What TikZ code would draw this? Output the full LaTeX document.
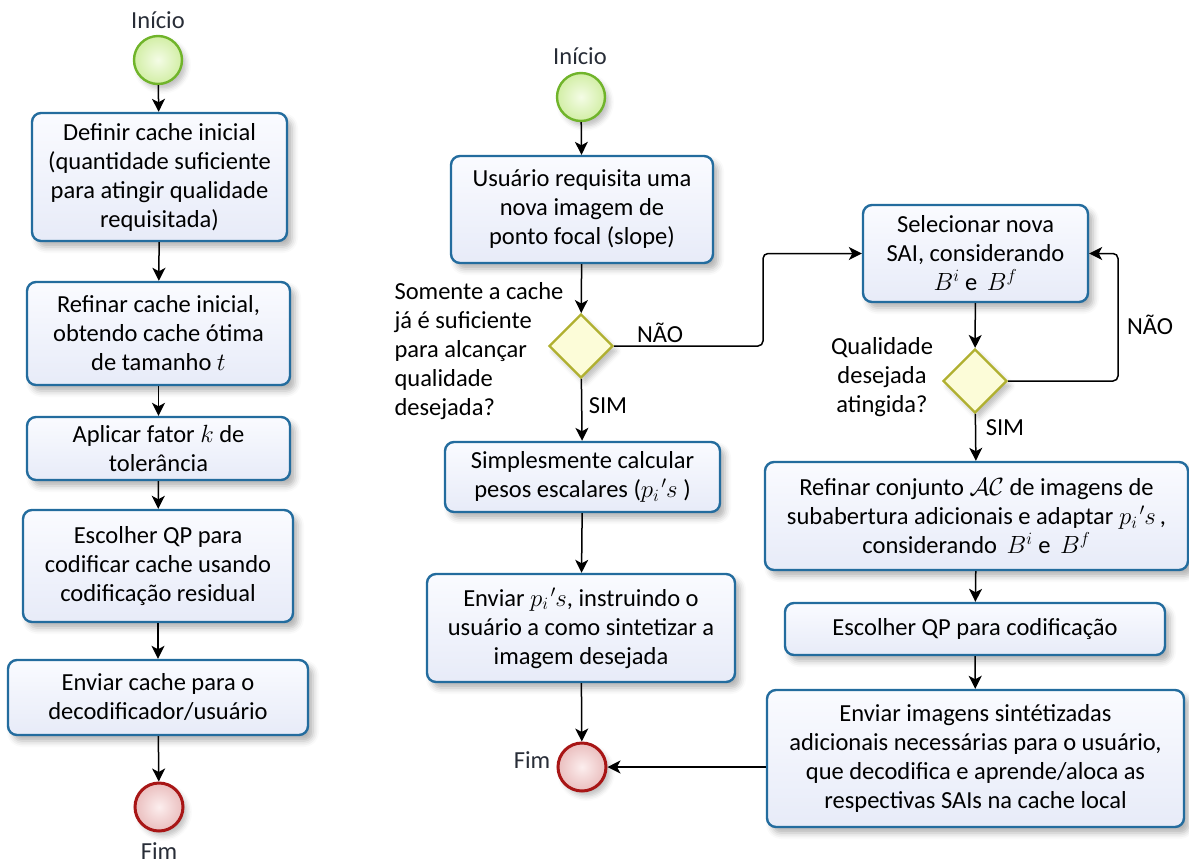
\documentclass[tikz,border=0pt]{standalone}
\usepackage{fontspec}
\setmainfont{Carlito}
\usetikzlibrary{shapes.geometric,arrows.meta,shadows.blur,calc}
\definecolor{boxborder}{RGB}{35,108,158}
\definecolor{boxfilltop}{RGB}{250,251,255}
\definecolor{boxfillbot}{RGB}{231,235,248}
\definecolor{startborder}{RGB}{112,180,42}
\definecolor{startin}{RGB}{244,252,230}
\definecolor{startout}{RGB}{210,238,165}
\definecolor{endborder}{RGB}{168,22,22}
\definecolor{endin}{RGB}{252,238,238}
\definecolor{endout}{RGB}{234,190,190}
\definecolor{decborder}{RGB}{176,176,48}
\definecolor{decfill}{RGB}{252,252,216}
\definecolor{labelcol}{RGB}{40,45,55}
\newcommand{\pis}{$p_i\kern2pt{}^{\prime}\kern-0.5pt s$}
\tikzset{
  txt/.style={font=\fontsize{24.5}{29}\selectfont, text=black},
  procbox/.style={txt, draw=boxborder, line width=2.4pt, rounded corners=9pt,
    top color=boxfilltop, bottom color=boxfillbot, align=center, inner sep=2pt,
    blur shadow={shadow xshift=5pt, shadow yshift=-6pt, shadow blur radius=6pt, shadow opacity=30}},
  startev/.style={circle, draw=startborder, line width=2.4pt, inner color=startin, outer color=startout,
    minimum size=48pt, inner sep=0pt,
    blur shadow={shadow xshift=4pt, shadow yshift=-5pt, shadow blur radius=5pt, shadow opacity=25}},
  endev/.style={circle, draw=endborder, line width=3pt, inner color=endin, outer color=endout,
    minimum size=48pt, inner sep=0pt,
    blur shadow={shadow xshift=4pt, shadow yshift=-5pt, shadow blur radius=5pt, shadow opacity=25}},
  decision/.style={diamond, draw=decborder, line width=2.4pt, fill=decfill, shape aspect=1,
    minimum width=64pt, minimum height=64pt, inner sep=0pt,
    blur shadow={shadow xshift=4pt, shadow yshift=-5pt, shadow blur radius=5pt, shadow opacity=25}},
  evlabel/.style={txt, text=labelcol},
  flow/.style={line width=1.5pt, draw=black, rounded corners=5pt,
    -{Stealth[length=13pt,width=13pt,inset=3.5pt]}},
}
\begin{document}
\begin{tikzpicture}[x=1pt,y=-1pt]
\useasboundingbox (0,0) rectangle (1189,865);

% ---------------- Left flow ----------------
\node[evlabel] (ls1) at (158,20) {Início};
\node[startev] (s1) at (158,60) {};
\node[procbox, minimum width=255pt, minimum height=128pt] (b1) at (159.5,177)
  {Definir cache inicial\\(quantidade suficiente\\para atingir qualidade\\requisitada)};
\node[procbox, minimum width=263pt, minimum height=103pt] (b2) at (158.5,333.5)
  {Refinar cache inicial,\\obtendo cache ótima\\de tamanho $t$};
\node[procbox, minimum width=263pt, minimum height=63pt] (b3) at (158.5,448.5)
  {Aplicar fator $k$ de\\tolerância};
\node[procbox, minimum width=270pt, minimum height=112pt] (b4) at (158,566)
  {Escolher QP para\\codificar cache usando\\codificação residual};
\node[procbox, minimum width=300pt, minimum height=75pt] (b5) at (158,697.5)
  {Enviar cache para o\\decodificador/usuário};
\node[endev] (e1) at (159,807) {};
\node[evlabel] (le1) at (159,851) {Fim};

\draw[flow] (s1) -- (b1);
\draw[flow] (b1) -- (b2);
\draw[flow] (b2) -- (b3);
\draw[flow] (b3) -- (b4);
\draw[flow] (b4) -- (b5);
\draw[flow] (b5) -- (e1);

% ---------------- Middle flow ----------------
\node[evlabel] (ls2) at (580,56) {Início};
\node[startev] (s2) at (581,97) {};
\node[procbox, minimum width=262pt, minimum height=107pt] (m1) at (582,209.5)
  {Usuário requisita uma\\nova imagem de\\ponto focal (slope)};
\node[decision] (d1) at (581,346) {};
\node[txt, anchor=west, align=left] (q1) at (391,351)
  {Somente a cache\\já é suficiente\\para alcançar\\qualidade\\desejada?};
\node[txt] (nao1) at (660,333) {NÃO};
\node[txt] (sim1) at (608,406) {SIM};
\node[procbox, minimum width=275pt, minimum height=70pt] (m2) at (582.5,477)
  {Simplesmente calcular\\pesos escalares (\pis\ )};
\node[procbox, minimum width=308pt, minimum height=108pt] (m3) at (581,628)
  {Enviar \pis, instruindo o\\usuário a como sintetizar a\\imagem desejada};
\node[endev] (e2) at (582,767) {};
\node[evlabel] (le2) at (532,760) {Fim};

\draw[flow] (s2) -- (m1);
\draw[flow] (m1) -- (d1);
\draw[flow] (d1) -- (m2);
\draw[flow] (m2) -- (m3);
\draw[flow] (m3) -- (e2);

% ---------------- Right flow ----------------
\node[procbox, minimum width=225pt, minimum height=97pt] (r1) at (975.5,253.5)
  {Selecionar nova\\SAI, considerando\\$B^i$ e\, $B^f$};
\node[decision] (d2) at (975,381) {};
\node[txt, align=center] (q2) at (882,377) {Qualidade\\desejada\\atingida?};
\node[txt] (nao2) at (1150,325) {NÃO};
\node[txt] (sim2) at (1005,428) {SIM};
\node[procbox, minimum width=423pt, minimum height=108pt] (r2) at (976.5,516)
  {Refinar conjunto $\mathcal{AC}$ de imagens de\\subabertura adicionais e adaptar \pis\,,\\considerando\, $B^i$ e\, $B^f$};
\node[procbox, minimum width=380pt, minimum height=52pt] (r3) at (975,629)
  {Escolher QP para codificação};
\node[procbox, minimum width=417pt, minimum height=137pt] (r4) at (975.5,758.5)
  {Enviar imagens sintétizadas\\adicionais necessárias para o usuário,\\que decodifica e aprende/aloca as\\respectivas SAIs na cache local};

\coordinate (k1) at (763,346);
\coordinate (k2) at (1118,381);
\draw[flow] (d1.east) -- (k1) |- (r1.west);
\draw[flow] (r1) -- (d2);
\draw[flow] (d2.east) -- (k2) |- (r1.east);
\draw[flow] (d2) -- (r2);
\draw[flow] (r2) -- (r3);
\draw[flow] (r3) -- (r4);
\draw[flow] (e2.east -| r4.west) -- (e2.east);
\end{tikzpicture}
\end{document}
